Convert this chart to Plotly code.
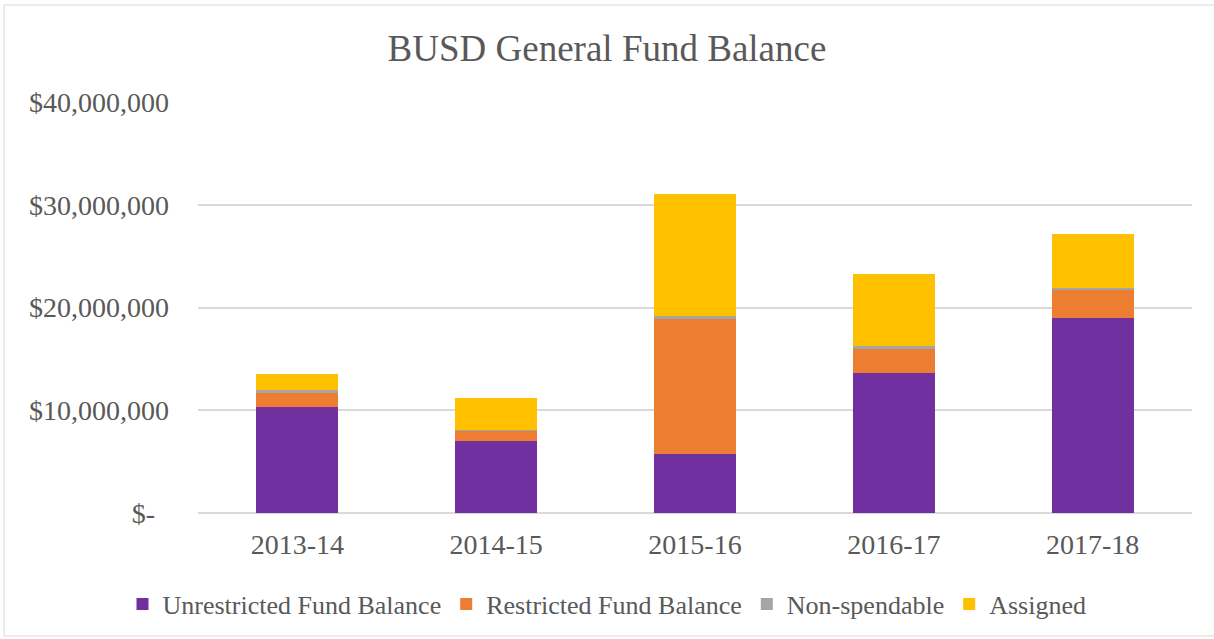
import plotly.graph_objects as go

categories = ["2013-14", "2014-15", "2015-16", "2016-17", "2017-18"]
unrestricted = [10350000, 7040000, 5710000, 13660000, 18950000]
restricted = [1400000, 1010000, 13240000, 2370000, 2720000]
non_spendable = [190000, 50000, 190000, 190000, 200000]
assigned = [1590000, 3060000, 11910000, 7040000, 5280000]

y_tickvals = [0, 10000000, 20000000, 30000000, 40000000]
y_ticktext = ["$-\u00a0\u00a0", "$10,000,000", "$20,000,000", "$30,000,000", "$40,000,000"]

series = [
    ("Unrestricted Fund Balance", unrestricted, "#7030A0"),
    ("Restricted Fund Balance", restricted, "#ED7D31"),
    ("Non-spendable", non_spendable, "#A5A5A5"),
    ("Assigned", assigned, "#FFC000"),
]

FONT = "Liberation Serif"
TXT = "#595959"

fig = go.Figure()
for name, vals, color in series:
    fig.add_trace(go.Bar(
        x=categories, y=vals, name=name,
        marker=dict(color=color, line=dict(width=0)),
    ))

fig.update_layout(
    barmode="stack",
    bargap=0.587,
    width=1214, height=639,
    paper_bgcolor="white", plot_bgcolor="white",
    margin=dict(l=198, r=22, t=102, b=126, autoexpand=False),
    font=dict(family=FONT, color=TXT, size=27),
    title=dict(text="BUSD General Fund Balance", x=0.5, xref="container",
               y=1 - 48 / 639, yref="container", xanchor="center", yanchor="middle",
               font=dict(family=FONT, size=37, color=TXT)),
    showlegend=True,
    legend=dict(orientation="h", xref="container", yref="container",
                x=0.5, xanchor="center", y=1 - 604 / 639, yanchor="middle",
                font=dict(family=FONT, size=26, color=TXT),
                itemsizing="constant", traceorder="normal", itemwidth=30),
    xaxis=dict(showgrid=False, showline=False, zeroline=False, ticks="",
               tickfont=dict(family=FONT, size=28, color=TXT),
               ticklabelstandoff=12),
    yaxis=dict(range=[0, 40000000], tickvals=y_tickvals, ticktext=y_ticktext,
               showgrid=True, gridcolor="#D9D9D9", gridwidth=1.5,
               zeroline=True, zerolinecolor="#D9D9D9", zerolinewidth=1.5,
               showline=False, ticks="",
               tickfont=dict(family=FONT, size=28, color=TXT),
               ticklabelstandoff=28),
    shapes=[dict(type="rect", xref="paper", yref="paper",
                 x0=-0.195, x1=1.025, y0=-0.299, y1=1.236,
                 line=dict(color="#D9D9D9", width=1), fillcolor="rgba(0,0,0,0)",
                 layer="below")],
)

fig.write_html("out.html")
